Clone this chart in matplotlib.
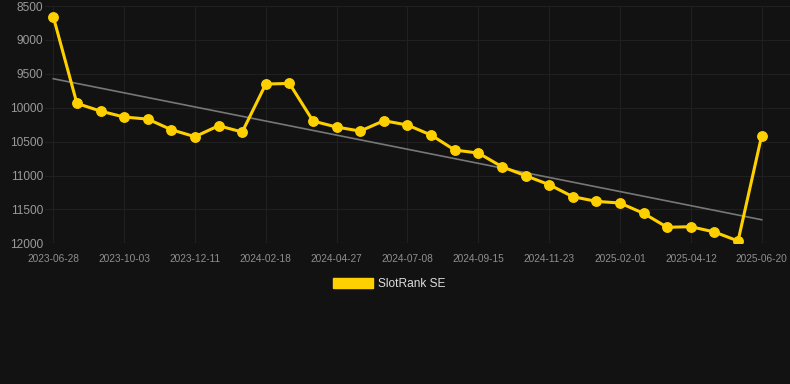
import numpy as np
import matplotlib
matplotlib.use("Agg")
import matplotlib.pyplot as plt

# SlotRank SE values, one per snapshot (lower rank number = better, axis inverted)
dates = ["2023-06-28", "", "", "2023-10-03", "", "", "2023-12-11", "", "",
         "2024-02-18", "", "", "2024-04-27", "", "", "2024-07-08", "", "",
         "2024-09-15", "", "", "2024-11-23", "", "", "2025-02-01", "", "",
         "2025-04-12", "", "", "2025-06-20"]
rank = [8657, 9936, 10049, 10137, 10167, 10324, 10427, 10265, 10358, 9650,
        9641, 10196, 10285, 10344, 10191, 10255, 10403, 10624, 10668, 10870,
        11002, 11135, 11312, 11381, 11406, 11558, 11764, 11755, 11833, 11966,
        10412]
yticks = [8500, 9000, 9500, 10000, 10500, 11000, 11500, 12000]

bg = "#121212"
gold = "#FFD000"

fig = plt.figure(figsize=(7.9, 3.84), dpi=100, facecolor=bg)
ax = fig.add_axes([0.057, 0.3664, 0.943, 0.6177], facecolor=bg)

x = np.arange(len(rank))

# linear trend over the series
k, b = np.polyfit(x, rank, 1)
ax.plot(x, k * x + b, color="#777777", lw=1.2, zorder=2)

ax.plot(x, rank, color=gold, lw=2.2, marker="o", markersize=6.8,
        label="SlotRank SE", zorder=3)

ax.set_xlim(-0.35, 31.2)
ax.set_ylim(12000, 8500)
ax.set_yticks(yticks)
ax.set_yticklabels([str(v) for v in yticks], fontsize=8.6, color="#9a9a9a",
                   family="Liberation Sans")
tick_pos = [i for i, d in enumerate(dates) if d]
ax.set_xticks(tick_pos)
ax.set_xticklabels([dates[i] for i in tick_pos], fontsize=7.3, color="#8f8f8f",
                   family="Liberation Sans")
ax.tick_params(axis="x", length=0, pad=8)
ax.tick_params(axis="y", length=0, pad=1.5)

ax.grid(True, color="#202020", lw=0.8, zorder=0)
for s in ax.spines.values():
    s.set_visible(False)
ax.axhline(12000, color="#2a2a2a", lw=0.8, zorder=1)

leg = fig.legend(handles=[plt.Rectangle((0, 0), 1, 1, color=gold)],
                 labels=["SlotRank SE"], loc="center", bbox_to_anchor=(0.493, 0.2604),
                 frameon=False, handlelength=3.3, handleheight=1.0,
                 handletextpad=0.5,
                 prop={"family": "Liberation Sans", "size": 8.6})
for t in leg.get_texts():
    t.set_color("#dddddd")

fig.savefig("out.png", dpi=100, facecolor=bg)
